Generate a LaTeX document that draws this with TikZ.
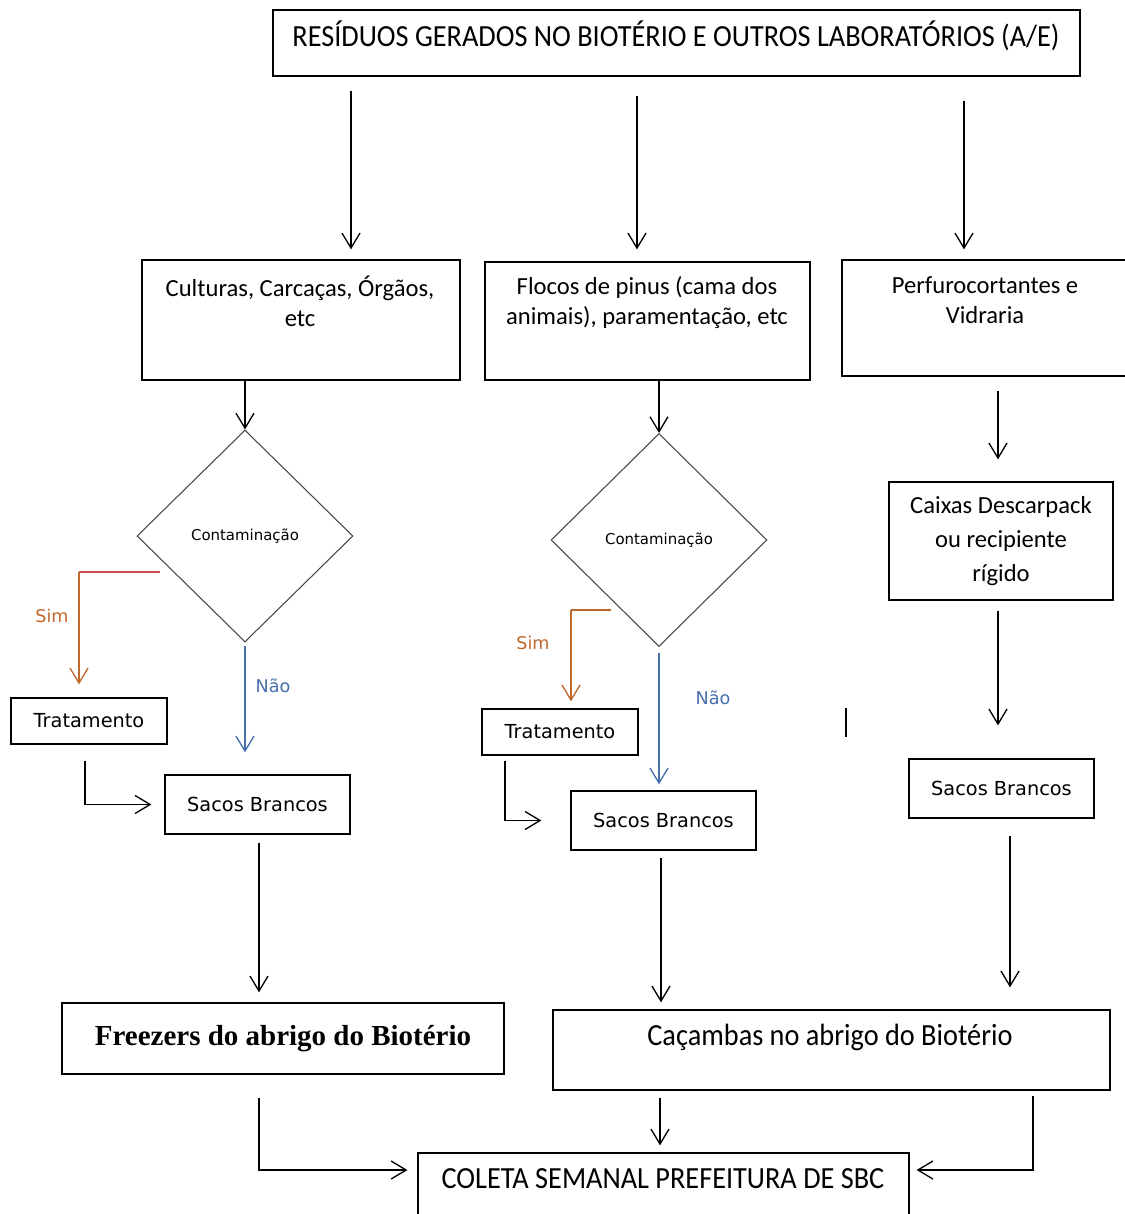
\documentclass[tikz,border=0pt]{standalone}
\usepackage{fontspec}
\setmainfont{Carlito}
\newfontfamily\narrowfont[FakeStretch=0.92]{Carlito}
\newfontfamily\verdfont{DejaVu Sans}
\newfontfamily\serifont{Liberation Serif}
\usetikzlibrary{shapes.geometric,arrows.meta}

\definecolor{simbrown}{RGB}{192,104,44}
\definecolor{simred}{RGB}{200,80,77}
\definecolor{naoblue}{RGB}{70,110,170}
\definecolor{edgegray}{RGB}{70,70,70}

\tikzset{
	box/.style={draw, line width=0.75pt, inner sep=0pt},
	btext/.style={inner sep=0pt, align=center, font=\fontsize{14}{17}\selectfont},
	bigtext/.style={inner sep=0pt, font=\narrowfont\fontsize{17.5}{21}\selectfont},
	small/.style={font=\verdfont\fontsize{11}{13}\selectfont},
	decision/.style={draw=edgegray, diamond, aspect=1, inner sep=0pt, line width=0.6pt,
		minimum width=4.32cm, minimum height=4.24cm, font=\verdfont\fontsize{8.5}{10}\selectfont},
	simlbl/.style={inner sep=0pt, text=simbrown, font=\verdfont\fontsize{10}{12}\selectfont},
	naolbl/.style={inner sep=0pt, text=naoblue, font=\verdfont\fontsize{10}{12}\selectfont},
	arr/.style={line width=0.75pt, -{Straight Barb[length=0.3cm,width=0.36cm]}}
}

\begin{document}
\begin{tikzpicture}[x=0.02cm, y=-0.02cm]
	\useasboundingbox (0,0) rectangle (1125,1214);
	\clip (0,0) rectangle (1125,1214);
	
	% caixas
	\node[box, minimum width=16.14cm, minimum height=1.32cm] (top) at (676.5,43) {};
	\node[bigtext, anchor=base] (toptxt) at (676,46) {RESÍDUOS GERADOS NO BIOTÉRIO E OUTROS LABORATÓRIOS (A/E)};
	\node[box, minimum width=6.36cm, minimum height=2.4cm] (cult) at (301,320) {};
	\node[btext] (culttxt) at (300,301) {Culturas, Carcaças, Órgãos,\\etc};
	\node[box, minimum width=6.5cm, minimum height=2.36cm] (floc) at (647.5,321) {};
	\node[btext] (floctxt) at (647,303) {Flocos de pinus (cama dos\\animais), paramentação, etc};
	\node[box, minimum width=5.86cm, minimum height=2.32cm] (perf) at (988.5,318) {};
	\node[btext] (perftxt) at (985,300) {Perfurocortantes e\\Vidraria};
	
	\node[decision] (cont1) at (245,536) {Contaminação};
	\node[decision, minimum height=4.26cm] (cont2) at (659,540) {Contaminação};
	\node[box, align=center, minimum width=4.48cm, minimum height=2.36cm,
		font=\fontsize{14}{19.4}\selectfont] (caix) at (1001,541) {Caixas Descarpack\\ou recipiente\\rígido};
	
	\node[box, small, minimum width=3.12cm, minimum height=0.92cm] (trat1) at (89,721) {Tratamento};
	\node[box, small, minimum width=3.12cm, minimum height=0.92cm] (trat2) at (560,732) {Tratamento};
	\node[box, small, minimum width=3.7cm, minimum height=1.18cm] (sacos1) at (257.5,804.5) {Sacos Brancos};
	\node[box, small, minimum width=3.7cm, minimum height=1.18cm] (sacos2) at (663.5,820.5) {Sacos Brancos};
	\node[box, small, minimum width=3.7cm, minimum height=1.18cm] (sacos3) at (1001.5,788.5) {Sacos Brancos};
	
	\node[box, minimum width=8.84cm, minimum height=1.42cm,
		font=\serifont\bfseries\fontsize{16.5}{20}\selectfont] (freez) at (283,1038.5) {Freezers do abrigo do Biotério};
	\node[box, minimum width=11.14cm, minimum height=1.6cm] (cacamb) at (831.5,1050) {};
	\node[bigtext, anchor=base] (cacambtxt) at (830,1045) {Caçambas no abrigo do Biotério};
	\node[box, minimum width=9.82cm, minimum height=1.74cm] (coleta) at (663.5,1196.5) {};
	\node[bigtext, anchor=base] (coletatxt) at (663,1188) {COLETA SEMANAL PREFEITURA DE SBC};
	
	% rotulos
	\node[simlbl] (sim1) at (52,616) {Sim};
	\node[naolbl] (nao1) at (273,686) {Não};
	\node[simlbl] (sim2) at (533,643) {Sim};
	\node[naolbl] (nao2) at (713,698) {Não};
	
	\coordinate (sim1a) at (160,572);
	\coordinate (sim1b) at (79,572);
	\coordinate (sim2a) at (611,610);
	\coordinate (sim2b) at (571,610);
	
	% setas
	\draw[arr, shorten <=0.28cm, shorten >=0.2cm] (top.south -| 351,0) -- (cult.north -| 351,0);
	\draw[arr, shorten <=0.38cm, shorten >=0.24cm] (top.south -| 637,0) -- (floc.north -| 637,0);
	\draw[arr, shorten <=0.48cm, shorten >=0.2cm] (top.south -| 964,0) -- (perf.north -| 964,0);
	\draw[arr] (cult.south -| cont1.north) -- (cont1.north);
	\draw[arr] (floc.south -| cont2.north) -- (cont2.north);
	\draw[arr, shorten <=0.28cm, shorten >=0.44cm] (perf.south -| 998,0) -- (caix.north -| 998,0);
	\draw[arr, shorten <=0.2cm, shorten >=0.66cm] (caix.south -| 998,0) -- (sacos3.north -| 998,0);
	
	\draw[simred, line width=0.75pt] (sim1a) -- (sim1b);
	\draw[arr, simbrown, shorten >=0.26cm] (sim1b) -- (trat1.north -| sim1b);
	\draw[simbrown, line width=0.75pt] (sim2a) -- (sim2b);
	\draw[arr, simbrown, shorten >=0.14cm] (sim2b) -- (trat2.north -| sim2b);
	\draw[arr, naoblue, shorten <=0.06cm, shorten >=0.44cm] (cont1.south) -- (sacos1.north -| cont1.south);
	\draw[arr, naoblue, shorten <=0.12cm, shorten >=0.12cm] (cont2.south) -- (sacos2.north -| cont2.south);
	
	\draw[arr, shorten <=0.32cm, shorten >=0.26cm] (trat1.south -| 85,0) |- (sacos1.west);
	\draw[arr, shorten <=0.1cm, shorten >=0.58cm] (trat2.south -| 505,0) |- (sacos2.west);
	
	\draw[arr, shorten <=0.16cm, shorten >=0.2cm] (sacos1.south -| 259,0) -- (freez.north -| 259,0);
	\draw[arr, shorten <=0.14cm, shorten >=0.14cm] (sacos2.south -| 661,0) -- (cacamb.north -| 661,0);
	\draw[arr, shorten <=0.34cm, shorten >=0.44cm] (sacos3.south -| 1010,0) -- (cacamb.north -| 1010,0);
	
	\draw[arr, shorten <=0.46cm, shorten >=0.2cm] (freez.south -| 259,0) |- (coleta.west |- 0,1170);
	\draw[arr, shorten <=0.14cm, shorten >=0.14cm] (cacamb.south -| 660,0) -- (coleta.north -| 660,0);
	\draw[arr, shorten <=0.1cm, shorten >=0.14cm] (cacamb.south -| 1033,0) |- (coleta.east |- 0,1170);
	
	% cursor
	\draw[line width=1.4pt] (846,708) -- (846,737);
\end{tikzpicture}
\end{document}
